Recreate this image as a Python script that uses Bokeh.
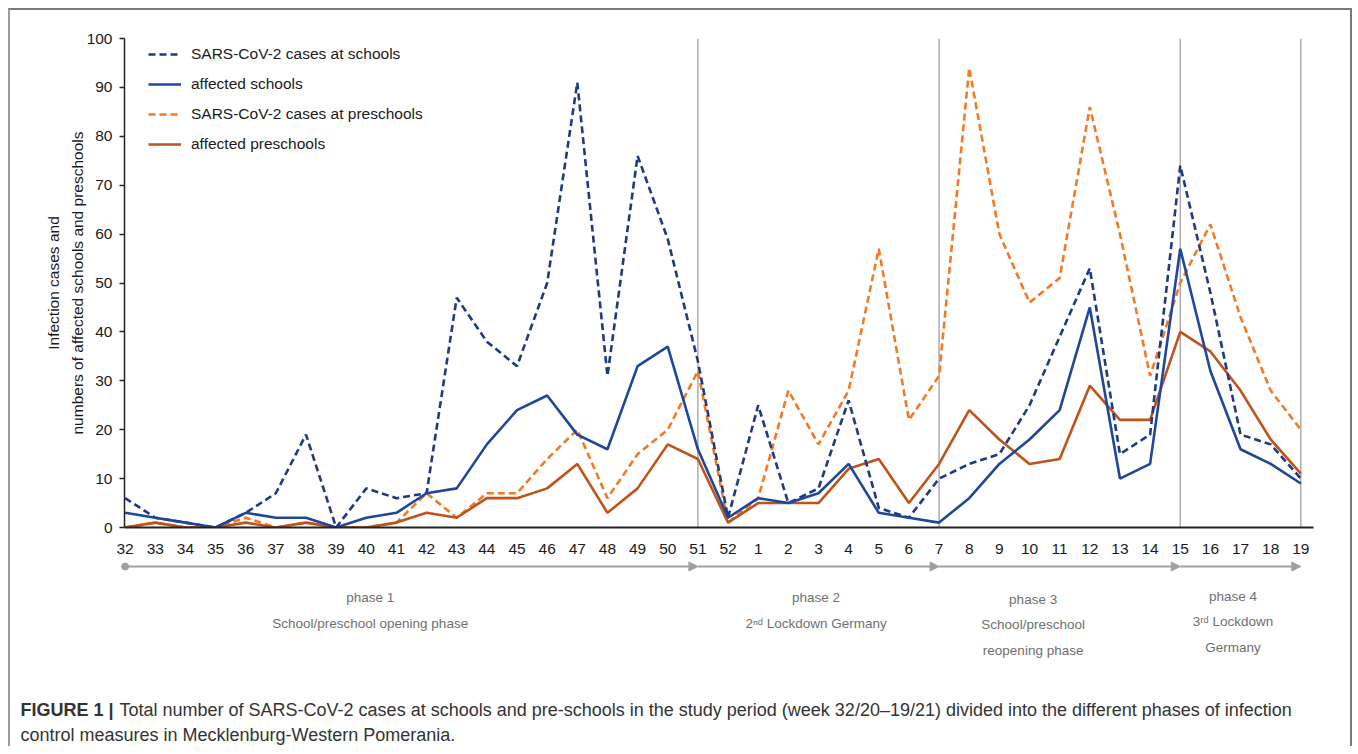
from bokeh.plotting import figure
from bokeh.layouts import column
from bokeh.models import (Range1d, FixedTicker, Legend, LegendItem, Span, Arrow, NormalHead)
from bokeh.core.properties import value
from bokeh.embed import file_html
from bokeh.resources import INLINE

# ---------------- data ----------------
weeks = ["32", "33", "34", "35", "36", "37", "38", "39", "40", "41", "42", "43",
         "44", "45", "46", "47", "48", "49", "50", "51", "52", "1", "2", "3", "4",
         "5", "6", "7", "8", "9", "10", "11", "12", "13", "14", "15", "16", "17",
         "18", "19"]

school_cases = [6, 2, 1, 0, 3, 7, 19, 0, 8, 6, 7, 47, 38, 33, 50, 91, 31, 76, 59, 34, 2,
                25, 5, 8, 26, 4, 2, 10, 13, 15, 25, 39, 53, 15, 19, 74, 48, 19, 17, 10]
affected_schools = [3, 2, 1, 0, 3, 2, 2, 0, 2, 3, 7, 8, 17, 24, 27, 19, 16, 33, 37, 16, 2,
                    6, 5, 7, 13, 3, 2, 1, 6, 13, 18, 24, 45, 10, 13, 57, 32, 16, 13, 9]
preschool_cases = [0, 1, 0, 0, 2, 0, 1, 0, 0, 1, 7, 2, 7, 7, 14, 20, 6, 15, 20, 32, 1,
                   6, 28, 17, 28, 57, 22, 31, 94, 60, 46, 51, 86, 60, 31, 50, 62, 43, 28, 20]
affected_preschools = [0, 1, 0, 0, 1, 0, 1, 0, 0, 1, 3, 2, 6, 6, 8, 13, 3, 8, 17, 14, 1,
                       5, 5, 5, 12, 14, 5, 13, 24, 18, 13, 14, 29, 22, 22, 40, 36, 28, 18, 11]

y_ticks = [0, 10, 20, 30, 40, 50, 60, 70, 80, 90, 100]

series_labels = ["SARS-CoV-2 cases at schools", "affected schools",
                 "SARS-CoV-2 cases at preschools", "affected preschools"]

# phase boundaries, given as week labels
phase_edge_weeks = ["32", "51", "7", "15", "19"]
phase_titles = ["phase 1", "phase 2", "phase 3", "phase 4"]
phase_texts = [["School/preschool opening phase"],
               ["2\u207f\u1d48 Lockdown Germany"],
               ["School/preschool", "reopening phase"],
               ["3\u02b3\u1d48 Lockdown", "Germany"]]

caption_bold = "FIGURE 1 |"
caption_line1 = ("Total number of SARS-CoV-2 cases at schools and pre-schools in the study "
                 "period (week 32/20\u201319/21) divided into the different phases of infection")
caption_line2 = "control measures in Mecklenburg-Western Pomerania."

# ---------------- layout constants ----------------
FONT = "Liberation Sans"
W = 1344
ML, MR, MT, MB = 114, 41, 28, 33
MAIN_H = 550
STRIP_H = 188
XS, XE = -0.02, 39.42
PPI = (W - ML - MR) / (XE - XS)          # pixels per week index

x_idx = list(range(len(weeks)))
edges = [weeks.index(w) for w in phase_edge_weeks]

BORDER_T = "2px solid #7a7a7a"
BORDER_L = "2px solid #9a9a9a"

# ---------------- main chart ----------------
p = figure(width=W, height=MAIN_H, x_range=Range1d(XS, XE), y_range=Range1d(0, 100),
           output_backend="svg", toolbar_location=None, title=None,
           min_border_left=ML, min_border_right=MR, min_border_top=MT,
           min_border_bottom=MB)
p.frame_align = False
p.styles = {"border-top": BORDER_T, "border-left": BORDER_L, "border-right": BORDER_T}
p.outline_line_color = None
p.xgrid.visible = False
p.ygrid.visible = False
p.background_fill_color = "white"
p.border_fill_color = "white"

xa = p.xaxis[0]
xa.ticker = FixedTicker(ticks=x_idx)
xa.major_label_overrides = {i: w for i, w in enumerate(weeks)}
xa.major_tick_line_color = None
xa.minor_tick_line_color = None
xa.axis_line_color = "#222222"
xa.axis_line_width = 2
xa.major_label_text_font = FONT
xa.major_label_text_font_size = "15.5px"
xa.major_label_text_color = "#1a1a1a"
xa.major_label_standoff = 10

ya = p.yaxis[0]
ya.ticker = FixedTicker(ticks=y_ticks)
ya.minor_tick_line_color = None
ya.major_tick_out = 5
ya.major_tick_in = 0
ya.major_tick_line_width = 1.5
ya.major_tick_line_color = "#222222"
ya.axis_line_color = "#222222"
ya.axis_line_width = 1.5
ya.major_label_text_font = FONT
ya.major_label_text_font_size = "15.5px"
ya.major_label_text_color = "#1a1a1a"
ya.major_label_standoff = 7
ya.axis_label = "Infection cases and\nnumbers of affected schools and preschools"
ya.axis_label_text_font = FONT
ya.axis_label_text_font_size = "15.5px"
ya.axis_label_text_font_style = "normal"
ya.axis_label_text_color = "#1a1a1a"
ya.axis_label_text_line_height = 1.4
ya.axis_label_standoff = -2

for e in edges[1:]:
    p.add_layout(Span(location=e, dimension="height", line_color="#a0a0a0",
                      line_width=1.3, level="underlay"))

BLUE_D = "#1d3a82"
BLUE_S = "#1f4799"
ORANGE_D = "#f27a26"
ORANGE_S = "#c0521c"
r_pc = p.line(x_idx, preschool_cases, line_color=ORANGE_D, line_width=2.6, line_dash="7 4")
r_ap = p.line(x_idx, affected_preschools, line_color=ORANGE_S, line_width=2.6)
r_sc = p.line(x_idx, school_cases, line_color=BLUE_D, line_width=2.6, line_dash="7 4")
r_as = p.line(x_idx, affected_schools, line_color=BLUE_S, line_width=2.6)

legend = Legend(items=[LegendItem(label=series_labels[0], renderers=[r_sc]),
                       LegendItem(label=series_labels[1], renderers=[r_as]),
                       LegendItem(label=series_labels[2], renderers=[r_pc]),
                       LegendItem(label=series_labels[3], renderers=[r_ap])],
                location=(24, 373), padding=0, margin=0, spacing=10,
                glyph_width=33, glyph_height=20, label_height=20, label_standoff=10,
                border_line_color=None, background_fill_alpha=0,
                label_text_font=FONT, label_text_font_size="15.5px",
                label_text_color="#1a1a1a")
p.add_layout(legend)

# ---------------- phase strip + caption ----------------
# x in week-index units aligned with the chart above; y in pixels below the strip top (negative)
s = figure(width=W, height=STRIP_H,
           x_range=Range1d(XS - ML / PPI, XE + MR / PPI), y_range=Range1d(-STRIP_H, 0),
           output_backend="svg", toolbar_location=None, title=None,
           x_axis_location=None, y_axis_location=None,
           min_border_left=0, min_border_right=0, min_border_top=0, min_border_bottom=0)
s.frame_align = False
s.styles = {"border-left": BORDER_L, "border-right": BORDER_T}
s.outline_line_color = None
s.xgrid.visible = False
s.ygrid.visible = False
s.background_fill_color = "white"
s.border_fill_color = "white"

GRAY = "#a0a0a0"
ARROW_Y = -8
for a, b in zip(edges[:-1], edges[1:]):
    s.add_layout(Arrow(x_start=a, y_start=ARROW_Y, x_end=b, y_end=ARROW_Y,
                       line_color=GRAY, line_width=2,
                       end=NormalHead(size=9, fill_color=GRAY, line_color=GRAY)))
s.scatter([edges[0]], [ARROW_Y], size=7, color=GRAY)

phase_x = [8.13, 22.92, 30.12, 36.75]
title_y = [-39, -39, -41, -38]
line_y = [[-65], [-65], [-66, -92], [-63, -89]]
tx, ty, tt = [], [], []
for i in range(4):
    tx.append(phase_x[i]); ty.append(title_y[i]); tt.append(phase_titles[i])
    for t, yy in zip(phase_texts[i], line_y[i]):
        tx.append(phase_x[i]); ty.append(yy); tt.append(t)
s.text(x=tx, y=ty, text=tt, text_align="center", text_baseline="middle",
       text_font=value(FONT), text_font_size="13.5px", text_color="#707070")


def page_x(px):
    """convert a horizontal pixel offset from the chart frame's left edge to index units"""
    return XS + px / PPI


s.text(x=[page_x(-104)], y=[-151], text=[caption_bold], text_align="left",
       text_baseline="middle", text_font=value(FONT), text_font_size="18px",
       text_font_style="bold", text_color="#333333")
s.text(x=[page_x(-5), page_x(-104)], y=[-151, -176], text=[caption_line1, caption_line2],
       text_align="left", text_baseline="middle", text_font=value(FONT),
       text_font_size="18px", text_color="#333333")

layout = column(p, s, spacing=0)
layout.styles = {"margin-left": "8px", "margin-top": "8px"}

open("out.html", "w").write(file_html(layout, INLINE))
